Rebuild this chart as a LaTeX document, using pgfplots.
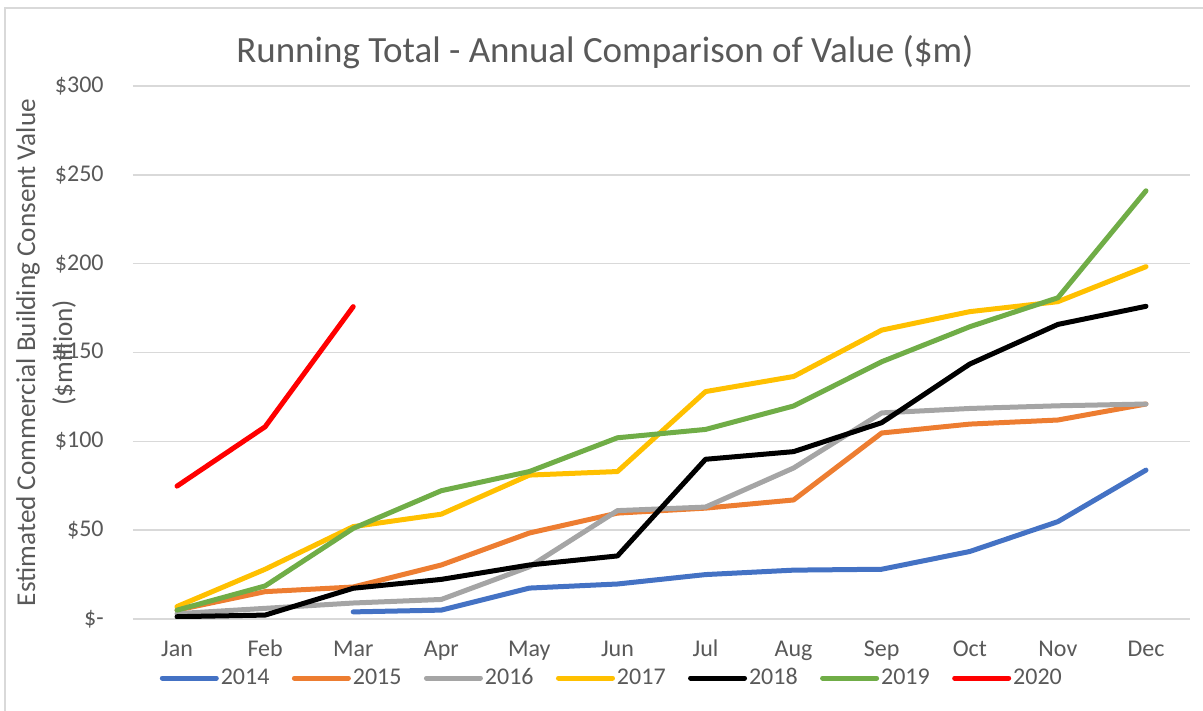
\documentclass[border=0pt]{standalone}
\usepackage{pgfplots}
\pgfplotsset{compat=1.18}
\usepackage{fontspec}
\setmainfont{Carlito}

\definecolor{s2014}{HTML}{4472C4}
\definecolor{s2015}{HTML}{ED7D31}
\definecolor{s2016}{HTML}{A5A5A5}
\definecolor{s2017}{HTML}{FFC000}
\definecolor{s2018}{HTML}{000000}
\definecolor{s2019}{HTML}{70AD47}
\definecolor{s2020}{HTML}{FF0000}
\definecolor{txtgrey}{HTML}{595959}
\definecolor{gridgrey}{HTML}{D9D9D9}

\begin{document}
\begin{tikzpicture}
\useasboundingbox (-66.5pt,-46pt) rectangle (535pt,309.5pt);
\draw[gridgrey, line width=1pt] (-64pt,-80pt) rectangle (570pt,305.5pt);
\begin{axis}[
    at={(0,0)}, anchor=south west,
    scale only axis,
    width=528.5pt, height=266.5pt,
    xmin=-0.5, xmax=11.5,
    ymin=0, ymax=300,
    xtick={0,...,11},
    xticklabels={Jan,Feb,Mar,Apr,May,Jun,Jul,Aug,Sep,Oct,Nov,Dec},
    ytick={0,50,...,300},
    yticklabels={\$-\hspace{0.45em},\$50,\$100,\$150,\$200,\$250,\$300},
    axis line style={draw=none},
    major tick length=0pt,
    ymajorgrids,
    grid style={gridgrey, line width=0.8pt},
    tick label style={font=\fontsize{12}{14}\selectfont, text=txtgrey},
    yticklabel style={anchor=east, inner sep=0pt, xshift=-14.5pt},
    xticklabel style={anchor=base, inner sep=0pt, yshift=-19pt},
    title={Running Total - Annual Comparison of Value (\$m)},
    title style={at={(rel axis cs:0.4465,1.0225)}, anchor=base, inner sep=0pt,
        font=\fontsize{18.5}{22}\selectfont, text=txtgrey},
    ylabel={Estimated Commercial Building Consent Value\\[2.5pt](\$million)},
    ylabel style={at={(rel axis cs:-0.0823,0.5)}, anchor=center, align=center,
        font=\fontsize{13.6}{16}\selectfont, text=txtgrey},
    legend columns=7,
    legend style={at={(rel axis cs:0.453,-0.1107)}, anchor=center, draw=none,
        fill=none, font=\fontsize{12}{14}\selectfont, text=txtgrey,
        nodes={inner sep=1pt},
        /tikz/every even column/.append style={column sep=10.2pt}},
    legend image code/.code={\draw[#1, line cap=round] (0pt,0pt) -- (27pt,0pt);},
    every axis plot/.append style={line width=2.5pt, line join=round, line cap=round, no marks},
]
\addplot[s2014] coordinates {(2,4) (3,5) (4,17.4) (5,19.7) (6,25) (7,27.5) (8,28) (9,38) (10,54.8) (11,83.8)};
\addlegendentry{2014}
\addplot[s2015] coordinates {(0,5) (1,15.4) (2,18) (3,30.4) (4,48.4) (5,59.6) (6,62.4) (7,67) (8,104.7) (9,109.7) (10,112) (11,121)};
\addlegendentry{2015}
\addplot[s2016] coordinates {(0,3) (1,6) (2,9) (3,11) (4,29.4) (5,61) (6,63) (7,85) (8,116) (9,118.5) (10,120) (11,121)};
\addlegendentry{2016}
\addplot[s2017] coordinates {(0,7) (1,28) (2,52) (3,59) (4,81) (5,83) (6,128) (7,136.5) (8,162.6) (9,173) (10,178.6) (11,198.3)};
\addlegendentry{2017}
\addplot[s2018] coordinates {(0,1.3) (1,2.2) (2,17.3) (3,22.3) (4,30.4) (5,35.5) (6,89.9) (7,94.2) (8,110.5) (9,143.5) (10,165.8) (11,176)};
\addlegendentry{2018}
\addplot[s2019] coordinates {(0,5) (1,18.6) (2,51) (3,72.2) (4,83) (5,102) (6,106.7) (7,119.9) (8,144.8) (9,164.5) (10,180.8) (11,241)};
\addlegendentry{2019}
\addplot[s2020] coordinates {(0,74.8) (1,108.2) (2,175.8)};
\addlegendentry{2020}
\end{axis}
\end{tikzpicture}
\end{document}
